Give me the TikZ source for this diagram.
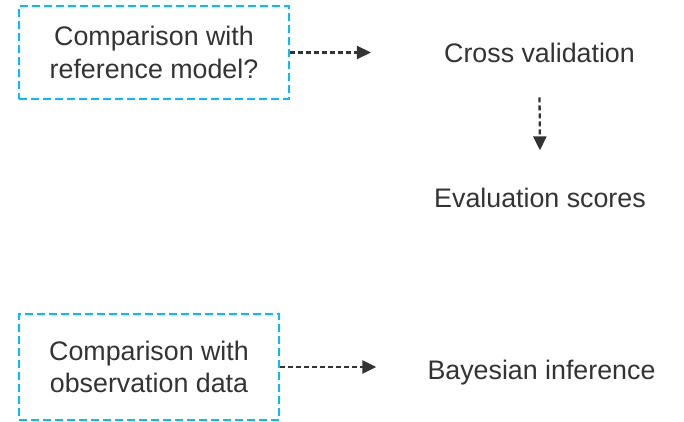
\documentclass[tikz,border=0pt]{standalone}
\usepackage{fontspec}
\setmainfont{Liberation Sans}
\usetikzlibrary{arrows.meta}
\definecolor{boxcyan}{RGB}{0,190,255}
\definecolor{ink}{RGB}{51,51,51}
\tikzset{
  cbox/.style={draw=boxcyan, line width=2.5pt, dash pattern=on 8pt off 4pt,
    align=center, inner sep=0pt, text=ink,
    font=\fontsize{26.8}{32.5}\selectfont},
  lbl/.style={inner sep=0pt, text=ink, font=\fontsize{26.8}{32.5}\selectfont},
  flow/.style={draw=ink, line width=2.3pt, dash pattern=on 5pt off 3pt,
    -{Triangle[length=14pt,width=13pt]}}
}
\begin{document}
\begin{tikzpicture}[x=1pt,y=-1pt]
  \useasboundingbox (0,0) rectangle (684,422);
  % upper branch
  \node[cbox, minimum width=270pt, minimum height=93pt] (ref) at (154,52.5)
    {Comparison with\\reference model?};
  \node[lbl, anchor=base] (cv) at (539.5,63) {Cross validation};
  \node[lbl, anchor=base] (ev) at (540,207) {Evaluation scores};
  % lower branch
  \node[cbox, minimum width=260pt, minimum height=106pt] (obs) at (149,367)
    {Comparison with\\observation data};
  \node[lbl, anchor=base] (bi) at (541.5,379) {Bayesian inference};
  % connectors
  \draw[flow, shorten >=73pt] (ref.east) -- (ref.east -| cv.west);
  \draw[flow] ([yshift=-34pt]cv.south) -- ([yshift=37pt]ev.north);
  \draw[flow, shorten >=51pt] (obs.east) -- (obs.east -| bi.west);
\end{tikzpicture}
\end{document}
